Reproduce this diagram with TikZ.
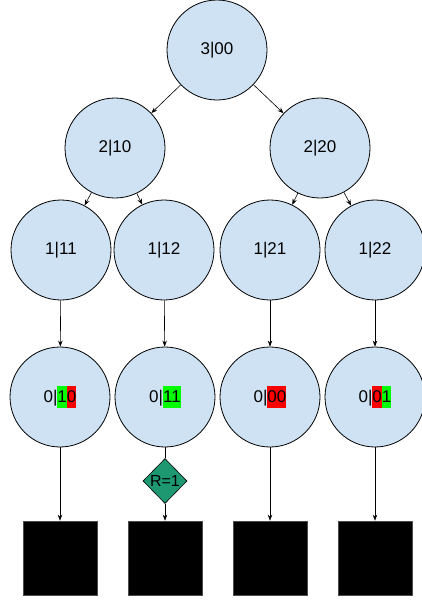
\documentclass[tikz,border=0pt]{standalone}
\usepackage{fontspec}
\setmainfont{Liberation Sans}
\usetikzlibrary{shapes.geometric,arrows.meta}
\definecolor{nodeblue}{RGB}{207,226,243}
\definecolor{hlgreen}{RGB}{0,255,0}
\definecolor{hlred}{RGB}{255,0,0}
\definecolor{teal}{RGB}{30,152,112}
\newcommand{\hlbox}[2]{{\setlength\fboxsep{0pt}\colorbox{#1}{\rule[-5.5pt]{0pt}{22pt}#2}}}
\tikzset{
  state/.style={circle, draw=black, line width=0.8pt, fill=nodeblue, minimum size=100pt, inner sep=0pt, font=\fontsize{17}{19}\selectfont},
  leaf/.style={rectangle, draw=black!70, line width=0.6pt, fill=black, minimum size=74pt, inner sep=0pt},
  check/.style={diamond, draw=black, line width=0.6pt, fill=teal, minimum width=44pt, minimum height=45pt, inner sep=0pt, font=\fontsize{16}{18}\selectfont},
  conn/.style={line width=0.6pt, -{Stealth[length=6pt,width=4.5pt]}},
  plain/.style={line width=0.6pt}
}
\begin{document}
\begin{tikzpicture}[x=1pt,y=-1pt]
\useasboundingbox (0,0) rectangle (422,600);
\node[state] (r) at (217,50) {3|00};
\node[state] (a) at (115,148) {2|10};
\node[state] (b) at (320,148) {2|20};
\node[state] (a1) at (61,250) {1|11};
\node[state] (a2) at (164,250) {1|12};
\node[state] (b1) at (270,250) {1|21};
\node[state] (b2) at (375,250) {1|22};
\node[state] (c1) at (60,397) {0|\hlbox{hlgreen}{1}\hlbox{hlred}{0}};
\node[state] (c2) at (165,397) {0|\hlbox{hlgreen}{11}};
\node[state] (c3) at (270,397) {0|\hlbox{hlred}{00}};
\node[state] (c4) at (375,397) {0|\hlbox{hlred}{0}\hlbox{hlgreen}{1}};
\node[check] (d) at (165,481) {R=1};
\node[leaf] (s1) at (60,558) {};
\node[leaf] (s2) at (165,558) {};
\node[leaf] (s3) at (270,558) {};
\node[leaf] (s4) at (375,558) {};
\draw[conn] (r) -- (a);
\draw[conn] (r) -- (b);
\draw[conn] (a) -- (a1);
\draw[conn] (a) -- (a2);
\draw[conn] (b) -- (b1);
\draw[conn] (b) -- (b2);
\draw[conn] (a1) -- (c1);
\draw[conn] (a2) -- (c2);
\draw[conn] (b1) -- (c3);
\draw[conn] (b2) -- (c4);
\draw[conn] (c1) -- (s1);
\draw[plain] (c2) -- (d);
\draw[conn] (d) -- (s2);
\draw[conn] (c3) -- (s3);
\draw[conn] (c4) -- (s4);
\end{tikzpicture}
\end{document}
